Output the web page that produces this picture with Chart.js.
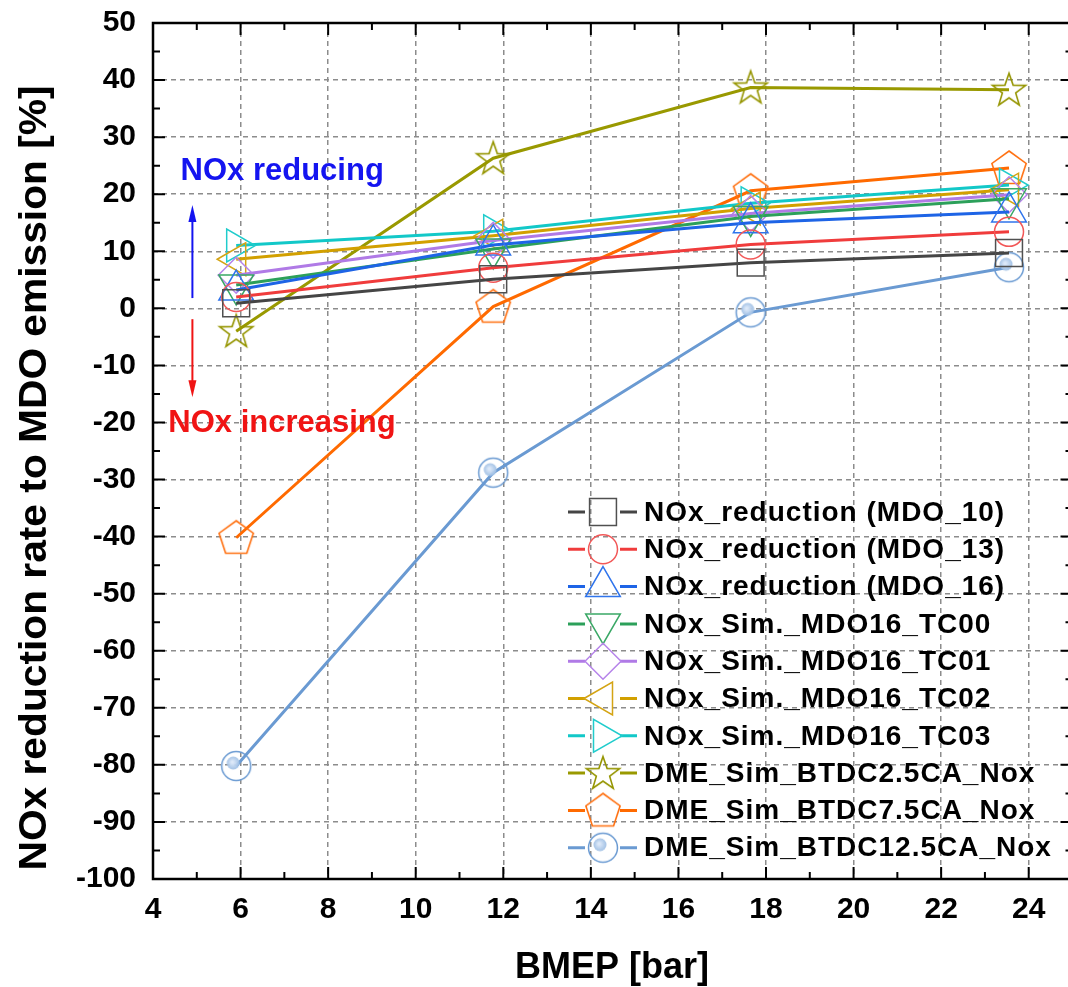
<!DOCTYPE html>
<html>
<head>
<meta charset="utf-8">
<script src="https://cdn.jsdelivr.net/npm/chart.js@4.4.1/dist/chart.umd.min.js"></script>
<style>
  html, body { margin: 0; padding: 0; background: #fff; overflow: hidden; }
  #wrap { width: 1094px; height: 987px; }
</style>
</head>
<body>
<div id="wrap"><canvas id="chart" width="1094" height="987"></canvas></div>
<script>
// x values (BMEP) shared by every series
const bmep = [5.9, 11.77, 17.65, 23.55];

// NOx reduction rate [%] per series
const mdo10 = [0.9, 5.1, 8.0, 9.7];
const mdo13 = [2.0, 7.1, 11.2, 13.4];
const mdo16 = [3.2, 11.1, 15.0, 16.9];
const tc00 = [4.1, 10.4, 16.1, 19.2];
const tc01 = [5.8, 11.9, 16.6, 19.9];
const tc02 = [8.6, 12.7, 17.5, 20.8];
const tc03 = [11.0, 13.5, 18.4, 21.6];
const dme25 = [-4.0, 26.3, 38.7, 38.3];
const dme75 = [-40.2, 0.3, 20.6, 24.6];
const dme125 = [-80.2, -28.8, -0.7, 7.2];

const labels = [
    'NOx_reduction (MDO_10)',
    'NOx_reduction (MDO_13)',
    'NOx_reduction (MDO_16)',
    'NOx_Sim._MDO16_TC00',
    'NOx_Sim._MDO16_TC01',
    'NOx_Sim._MDO16_TC02',
    'NOx_Sim._MDO16_TC03',
    'DME_Sim_BTDC2.5CA_Nox',
    'DME_Sim_BTDC7.5CA_Nox',
    'DME_Sim_BTDC12.5CA_Nox'
];

const xTicks = [4, 6, 8, 10, 12, 14, 16, 18, 20, 22, 24];
const xMinor = [5, 7, 9, 11, 13, 15, 17, 19, 21, 23, 25];
const yTicks = [-100, -90, -80, -70, -60, -50, -40, -30, -20, -10, 0, 10, 20, 30, 40, 50];
const yMinor = [-95, -85, -75, -65, -55, -45, -35, -25, -15, -5, 5, 15, 25, 35, 45];

const FONT = '"Liberation Sans", Arial, sans-serif';

function makeStar(color) {
    const c = document.createElement('canvas');
    c.width = 40; c.height = 40;
    const g = c.getContext('2d');
    g.strokeStyle = color;
    g.lineWidth = 1.6;
    g.beginPath();
    for (let i = 0; i < 10; i++) {
        const r = i % 2 ? 7 : 17.5;
        const a = -Math.PI / 2 + i * Math.PI / 5;
        const x = 20 + r * Math.cos(a), y = 21 + r * Math.sin(a);
        if (i) g.lineTo(x, y); else g.moveTo(x, y);
    }
    g.closePath();
    g.stroke();
    return c;
}

function makePentagon(color) {
    const c = document.createElement('canvas');
    c.width = 40; c.height = 40;
    const g = c.getContext('2d');
    g.strokeStyle = color;
    g.lineWidth = 1.6;
    g.beginPath();
    for (let i = 0; i < 5; i++) {
        const a = -Math.PI / 2 + i * 2 * Math.PI / 5;
        const x = 20 + 18 * Math.cos(a), y = 21 + 18 * Math.sin(a);
        if (i) g.lineTo(x, y); else g.moveTo(x, y);
    }
    g.closePath();
    g.stroke();
    return c;
}

function makeBubble(color) {
    const c = document.createElement('canvas');
    c.width = 36; c.height = 36;
    const g = c.getContext('2d');
    g.strokeStyle = color;
    g.lineWidth = 1.5;
    g.beginPath();
    g.arc(18, 18, 14.5, 0, Math.PI * 2);
    g.stroke();
    const grad = g.createRadialGradient(14, 14, 1, 15, 15, 7);
    grad.addColorStop(0, 'rgba(220,232,248,1)');
    grad.addColorStop(1, 'rgba(150,185,225,0.9)');
    g.fillStyle = grad;
    g.beginPath();
    g.arc(15, 15, 6.5, 0, Math.PI * 2);
    g.fill();
    return c;
}

function series(label, values, color, markColor, style, radius, rotation) {
    return {
        label: label,
        data: bmep.map((x, i) => ({ x: x, y: values[i] })),
        borderColor: color,
        borderWidth: 3,
        pointStyle: style,
        pointRadius: radius,
        pointRotation: rotation,
        pointBorderColor: markColor,
        pointBorderWidth: 1.5,
        pointBackgroundColor: 'rgba(0,0,0,0)',
        tension: 0,
        fill: false
    };
}

const datasets = [
    series(labels[0], mdo10, '#454545', '#505050', 'rect', 19, 0),
    series(labels[1], mdo13, '#f03c3c', '#f25858', 'circle', 14.5, 0),
    series(labels[2], mdo16, '#1e64e6', '#2f74ec', 'triangle', 20, 0),
    series(labels[3], tc00, '#2ca05a', '#3aa866', 'triangle', 20, 180),
    series(labels[4], tc01, '#b07ae6', '#b683ea', 'rectRot', 18, 0),
    series(labels[5], tc02, '#d2a000', '#d4a414', 'triangle', 19, -90),
    series(labels[6], tc03, '#12c8c8', '#20cccc', 'triangle', 19, 90),
    series(labels[7], dme25, '#999900', '#959500', makeStar('#959500'), 18, 0),
    series(labels[8], dme75, '#ff6a00', '#ff7010', makePentagon('#ff7010'), 18, 0),
    series(labels[9], dme125, '#6a9ad2', '#6a9ad2', makeBubble('#6a9ad2'), 15, 0)
];

const decor = {
    id: 'decor',
    afterDraw(chart) {
        const ctx = chart.ctx;
        const xs = chart.scales.x, ys = chart.scales.y;
        const a = chart.chartArea;

        // frame
        ctx.save();
        ctx.strokeStyle = '#000';
        ctx.lineWidth = 2.5;
        ctx.strokeRect(a.left, a.top, a.right - a.left, a.bottom - a.top);

        // inward ticks on all four sides
        ctx.lineWidth = 2;
        ctx.beginPath();
        const tickX = (vals, len) => vals.forEach(v => {
            const px = xs.getPixelForValue(v);
            ctx.moveTo(px, a.bottom); ctx.lineTo(px, a.bottom - len);
            ctx.moveTo(px, a.top); ctx.lineTo(px, a.top + len);
        });
        const tickY = (vals, len) => vals.forEach(v => {
            const py = ys.getPixelForValue(v);
            ctx.moveTo(a.left, py); ctx.lineTo(a.left + len, py);
            ctx.moveTo(a.right, py); ctx.lineTo(a.right - len, py);
        });
        tickX(xTicks, 12); tickX(xMinor, 7);
        tickY(yTicks, 12); tickY(yMinor, 7);
        ctx.stroke();

        // arrows
        const arrow = (x, y0, y1, color) => {
            const px = xs.getPixelForValue(x);
            const p0 = ys.getPixelForValue(y0), p1 = ys.getPixelForValue(y1);
            const dir = p1 < p0 ? 1 : -1;
            ctx.strokeStyle = color;
            ctx.fillStyle = color;
            ctx.lineWidth = 2;
            ctx.beginPath();
            ctx.moveTo(px, p0); ctx.lineTo(px, p1 + dir * 10);
            ctx.stroke();
            ctx.beginPath();
            ctx.moveTo(px, p1);
            ctx.lineTo(px - 4, p1 + dir * 17);
            ctx.lineTo(px + 4, p1 + dir * 17);
            ctx.closePath();
            ctx.fill();
        };
        arrow(4.9, 1.8, 18.1, '#1414f0');
        arrow(4.9, -1.9, -15.6, '#f01414');

        ctx.font = 'bold 31px ' + FONT;
        ctx.textBaseline = 'middle';
        ctx.textAlign = 'left';
        ctx.fillStyle = '#1414f0';
        ctx.fillText('NOx reducing', xs.getPixelForValue(4.63), ys.getPixelForValue(23.9));
        ctx.fillStyle = '#f01414';
        ctx.fillText('NOx increasing', xs.getPixelForValue(4.35), ys.getPixelForValue(-20.2));

        // legend
        const helpers = Chart.helpers;
        ctx.font = 'bold 28px ' + FONT;
        ctx.letterSpacing = '1px';
        chart.data.datasets.forEach((d, i) => {
            const y = 512 + i * 37.3;
            ctx.strokeStyle = d.borderColor;
            ctx.lineWidth = 3;
            ctx.beginPath();
            ctx.moveTo(568, y); ctx.lineTo(585, y);
            ctx.moveTo(620, y); ctx.lineTo(637, y);
            ctx.stroke();
            ctx.strokeStyle = d.pointBorderColor;
            ctx.fillStyle = 'rgba(0,0,0,0)';
            ctx.lineWidth = d.pointBorderWidth;
            helpers.drawPoint(ctx, {
                pointStyle: d.pointStyle,
                rotation: d.pointRotation,
                radius: d.pointRadius,
                borderWidth: d.pointBorderWidth
            }, 603, y);
            ctx.fillStyle = '#000';
            ctx.fillText(d.label, 644, y + 1);
        });
        ctx.letterSpacing = '0px';

        // axis titles
        ctx.fillStyle = '#000';
        ctx.textAlign = 'center';
        ctx.textBaseline = 'alphabetic';
        ctx.font = 'bold 36px ' + FONT;
        ctx.fillText('BMEP [bar]', 612, 978);

        const yTitle = 'NOx reduction rate to MDO emission [%]';
        ctx.font = 'bold 39px ' + FONT;
        const w = ctx.measureText(yTitle).width;
        ctx.translate(46, 478);
        ctx.rotate(-Math.PI / 2);
        ctx.scale(785 / w, 1);
        ctx.fillText(yTitle, 0, 0);
        ctx.restore();
    }
};

const chart = new Chart(document.getElementById('chart').getContext('2d'), {
    type: 'line',
    data: { datasets: datasets },
    options: {
        responsive: false,
        animation: false,
        devicePixelRatio: 1,
        events: [],
        layout: { padding: { left: 0, right: 8, top: 23, bottom: 0 } },
        plugins: {
            legend: { display: false },
            tooltip: { enabled: false }
        },
        scales: {
            x: {
                type: 'linear',
                min: 4,
                max: 25,
                afterBuildTicks: s => { s.ticks = xTicks.map(v => ({ value: v })); },
                afterFit: s => {
                    s.height = 108;
                    s.paddingLeft = 0; s.paddingRight = 0;
                },
                grid: { color: '#8c8c8c', lineWidth: 1.5, drawTicks: false },
                border: { display: false, dash: [5, 4] },
                ticks: {
                    autoSkip: false,
                    maxRotation: 0,
                    padding: 13,
                    color: '#000',
                    font: { family: FONT, size: 30, weight: 'bold' }
                }
            },
            y: {
                min: -100,
                max: 50,
                afterBuildTicks: s => { s.ticks = yTicks.map(v => ({ value: v })); },
                afterFit: s => {
                    s.width = 153;
                    s.paddingTop = 0; s.paddingBottom = 0;
                },
                grid: { color: '#8c8c8c', lineWidth: 1.5, drawTicks: false },
                border: { display: false, dash: [5, 4] },
                ticks: {
                    padding: 17,
                    color: '#000',
                    font: { family: FONT, size: 30, weight: 'bold' }
                }
            }
        }
    },
    plugins: [decor]
});
</script>
</body>
</html>
